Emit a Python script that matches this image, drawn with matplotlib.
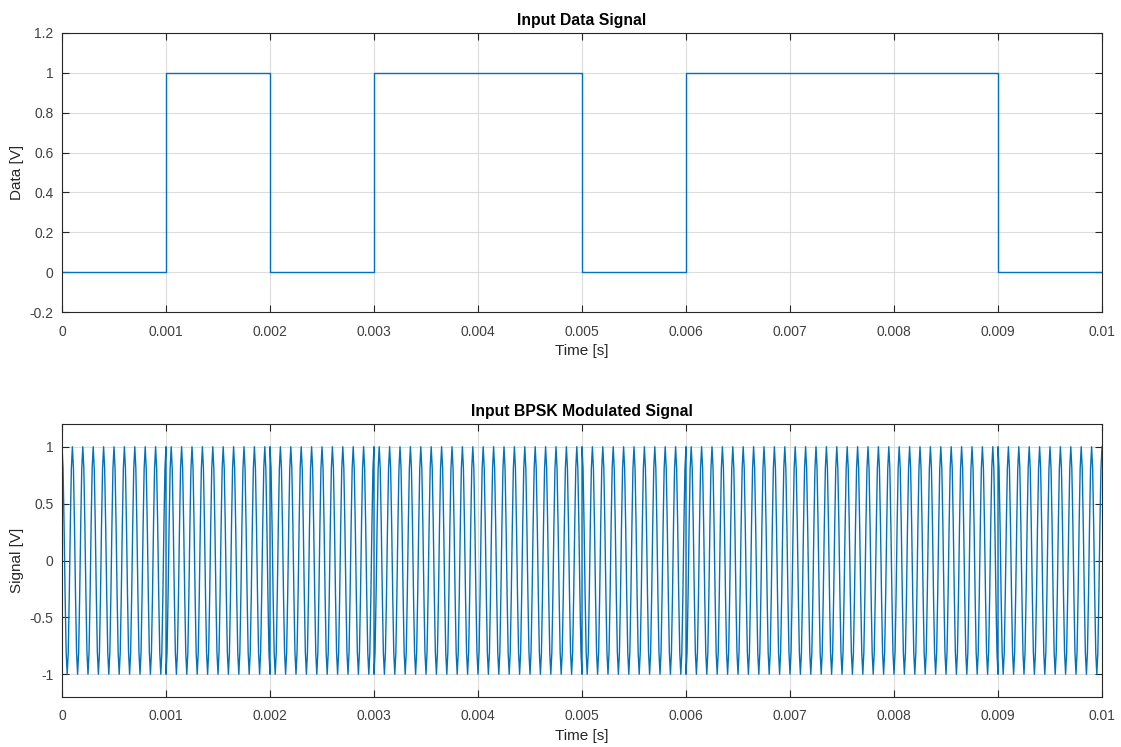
import numpy as np
import matplotlib
matplotlib.use("Agg")
import matplotlib.pyplot as plt

plt.rcParams['font.family'] = ['Liberation Sans', 'DejaVu Sans']

# Data
bits = [0, 1, 0, 1, 1, 0, 1, 1, 1, 0]
bit_period = 0.001          # s
carrier_freq = 10000.0      # Hz
samples_per_bit = 100

x_ticks = [0, 0.001, 0.002, 0.003, 0.004, 0.005, 0.006, 0.007, 0.008, 0.009, 0.01]
x_tick_labels = ['0', '0.001', '0.002', '0.003', '0.004', '0.005', '0.006', '0.007', '0.008', '0.009', '0.01']
top_y_ticks = [-0.2, 0, 0.2, 0.4, 0.6, 0.8, 1.0, 1.2]
top_y_labels = ['-0.2', '0', '0.2', '0.4', '0.6', '0.8', '1', '1.2']
bot_y_ticks = [-1, -0.5, 0, 0.5, 1]
bot_y_labels = ['-1', '-0.5', '0', '0.5', '1']

# Build BPSK signal bit by bit
t_parts = []
s_parts = []
for i, b in enumerate(bits):
    k = np.arange(samples_per_bit + 1)
    tb = i * bit_period + k * (bit_period / samples_per_bit)
    t_parts.append(tb)
    s_parts.append(np.cos(2 * np.pi * carrier_freq * tb + np.pi * b))
t = np.concatenate(t_parts)
bpsk = np.concatenate(s_parts)

# step data
ts = []
ds = []
for i, b in enumerate(bits):
    ts += [i * bit_period, (i + 1) * bit_period]
    ds += [b, b]

line_color = '#0072BD'
axis_color = '#262626'
label_color = '#404040'

fig = plt.figure(figsize=(11.21, 7.47), dpi=100)
W, H = 1121, 747
ax1 = fig.add_axes([62 / W, 1 - 312 / H, (1102 - 62) / W, (312 - 33) / H])
ax2 = fig.add_axes([62 / W, 1 - 697 / H, (1102 - 62) / W, (697 - 424) / H])

def style(ax):
    ax.grid(True, color='#dcdcdc', linewidth=0.8)
    ax.set_axisbelow(True)
    for s in ax.spines.values():
        s.set_color(axis_color)
        s.set_linewidth(0.8)
    ax.tick_params(direction='in', length=5, width=0.8, colors=axis_color,
                   labelsize=10, top=True, right=True, labelcolor=label_color)
    ax.tick_params(axis='x', pad=9)
    ax.tick_params(axis='y', pad=6)
    ax.set_xlim(0, 0.01)
    ax.set_xticks(x_ticks)
    ax.set_xticklabels(x_tick_labels)
    ax.set_xlabel('Time [s]', fontsize=11, color=axis_color, labelpad=4)

ax1.plot(ts, ds, color=line_color, linewidth=1.0)
style(ax1)
ax1.set_ylim(-0.2, 1.2)
ax1.set_yticks(top_y_ticks)
ax1.set_yticklabels(top_y_labels)
ax1.set_ylabel('Data [V]', fontsize=11, color=axis_color)
ax1.set_title('Input Data Signal', fontsize=11.3, fontweight='bold', color='#000000', pad=6)

ax2.plot(t, bpsk, color=line_color, linewidth=1.0)
style(ax2)
ax2.set_ylim(-1.2, 1.2)
ax2.set_yticks(bot_y_ticks)
ax2.set_yticklabels(bot_y_labels)
ax2.set_ylabel('Signal [V]', fontsize=11, color=axis_color)
ax2.set_title('Input BPSK Modulated Signal', fontsize=11.3, fontweight='bold', color='#000000', pad=6)

fig.savefig('out.png', dpi=100, facecolor='white')
